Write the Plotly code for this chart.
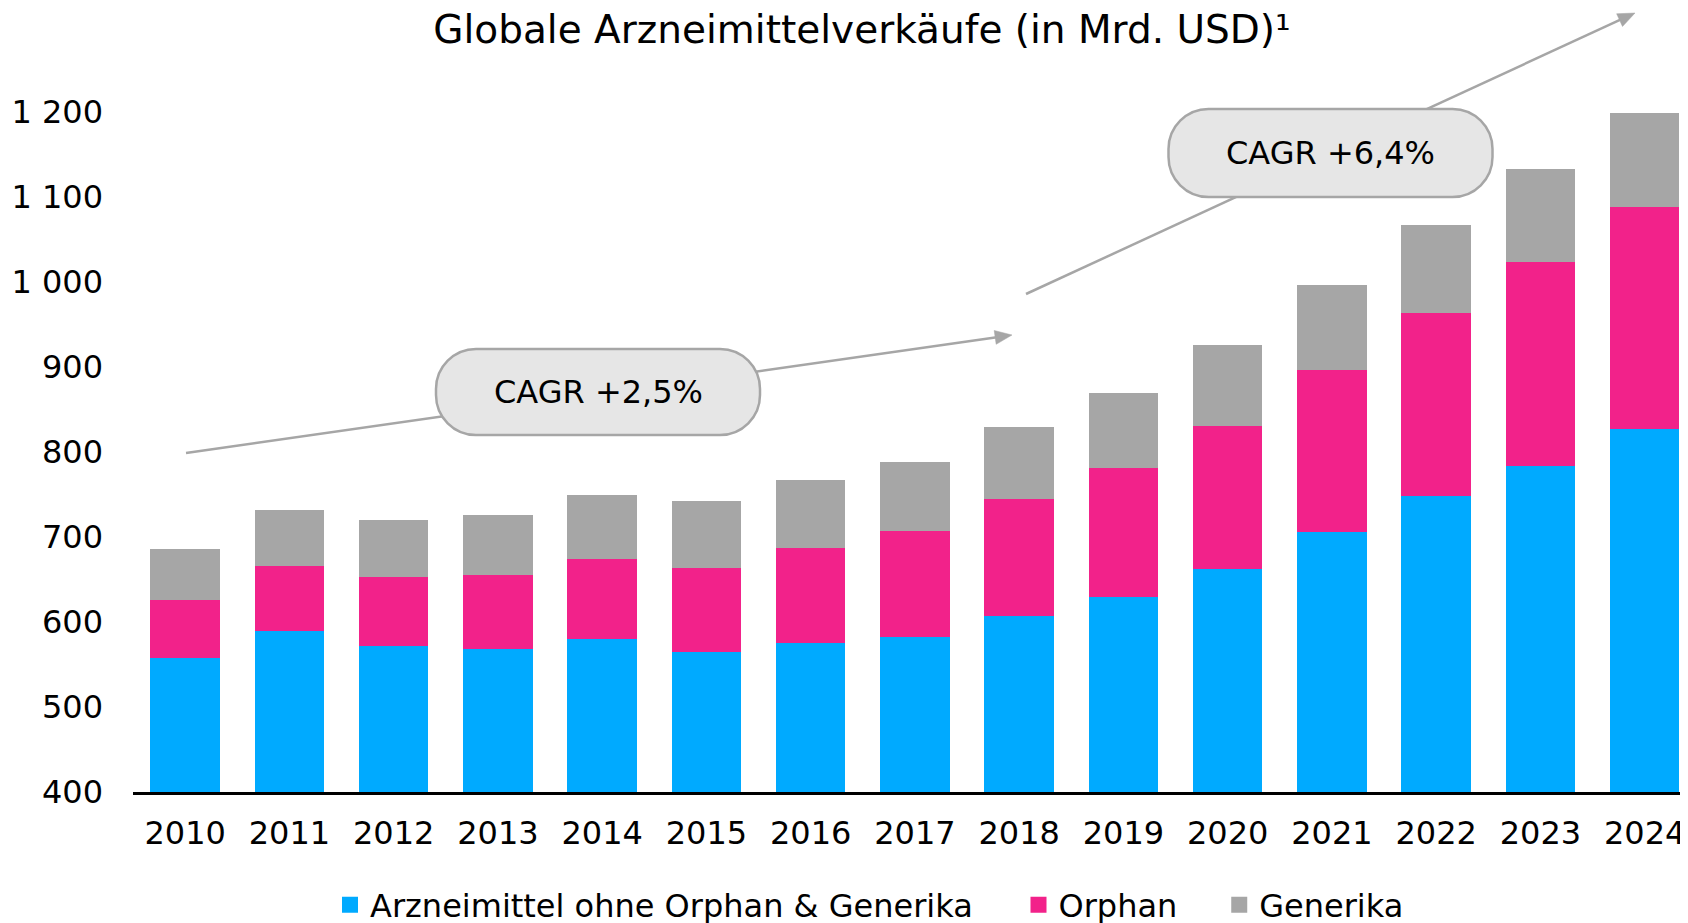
import plotly.graph_objects as go

years = [2010, 2011, 2012, 2013, 2014, 2015, 2016, 2017, 2018, 2019, 2020, 2021, 2022, 2023, 2024]
ohne_orphan_generika = [558, 589.5, 571.5, 568, 580.5, 564.5, 575.5, 582.5, 607.5, 630, 662, 705.5, 748, 784, 827]
orphan = [68, 76.5, 81.5, 87.5, 93.5, 99.5, 112, 124.5, 137.5, 151, 169, 191.5, 216, 240, 261.5]
generika = [60, 66, 67, 70.5, 76, 78.5, 79.5, 81, 84, 89, 95, 100, 103.5, 108.5, 110.5]

series_names = ["Arzneimittel ohne Orphan & Generika", "Orphan", "Generika"]
series_colors = ["#00AAFF", "#F2228A", "#A6A6A6"]

y_tickvals = [400, 500, 600, 700, 800, 900, 1000, 1100, 1200]
y_ticktext = ["400", "500", "600", "700", "800", "900", "1 000", "1 100", "1 200"]

title_text = "Globale Arzneimittelverkäufe (in Mrd. USD)\u00b9"
cagr_labels = ["CAGR +2,5%", "CAGR +6,4%"]

FONT = "DejaVu Sans"
NB = "\u00a0"
THIN = "\u2009"

# page body has an 8px margin: figure is 8px smaller and everything is laid out for that
W, H = 1680, 915
OFF = 8
ML, MB, MT = 125, 131, 0
PLOT_W = W - ML
PLOT_H = H - MB - MT
X_RANGE = [2009.5, 2024.416]
Y_RANGE = [400, 400 + PLOT_H / 0.85]

# screen(px) -> data helpers for decorative annotations (reference page coordinates)
def sx2x(sx):
    fx = (sx - OFF - ML) / PLOT_W
    return X_RANGE[0] + fx * (X_RANGE[1] - X_RANGE[0])

def sy2y(sy):
    fy = (H - MB - (sy - OFF)) / PLOT_H
    return Y_RANGE[0] + fy * (Y_RANGE[1] - Y_RANGE[0])

fig = go.Figure()
for name, vals, col in zip(series_names, [ohne_orphan_generika, orphan, generika], series_colors):
    fig.add_trace(go.Bar(
        x=years, y=vals, name=name, legendgroup=name, showlegend=False,
        marker=dict(color=col, line=dict(width=0)),
    ))
# legend proxies (larger square symbols)
pads = [NB * 4, NB * 3 + THIN, ""]
for name, col, pad in zip(series_names, series_colors, pads):
    fig.add_trace(go.Scatter(
        x=[None], y=[None], mode="markers", name=name + pad, legendgroup=name,
        marker=dict(symbol="square", size=16, color=col), hoverinfo="skip",
    ))

line_col = "#A6A6A6"
# arrows: start and tip in reference screen px
arrows = [((186, 453), (1012, 335)), ((1026, 294), (1635, 13))]
shapes = []
annotations = []
HL, HW = 17, 14
for (s, t) in arrows:
    dx, dy = t[0] - s[0], t[1] - s[1]
    L = (dx * dx + dy * dy) ** 0.5
    ux, uy = dx / L, dy / L
    ex, ey = t[0] - 10 * ux, t[1] - 10 * uy
    shapes.append(dict(type="line", xref="x", yref="y",
                       x0=sx2x(s[0]), y0=sy2y(s[1]), x1=sx2x(ex), y1=sy2y(ey),
                       line=dict(color=line_col, width=2.5)))
    # arrow head (pixel-sized path, y up)
    d = (ux, -uy)
    p = (-d[1], d[0])
    bx, by = -HL * d[0], -HL * d[1]
    c1 = (bx + HW / 2 * p[0], by + HW / 2 * p[1])
    c2 = (bx - HW / 2 * p[0], by - HW / 2 * p[1])
    shapes.append(dict(type="path", xref="x", yref="y", xsizemode="pixel", ysizemode="pixel",
                       xanchor=sx2x(t[0]), yanchor=sy2y(t[1]),
                       path=f"M0,0 L{c1[0]:.2f},{c1[1]:.2f} L{c2[0]:.2f},{c2[1]:.2f} Z",
                       fillcolor=line_col, line=dict(color=line_col, width=0.5)))

k = 0.5523
def pill(w, h, r):
    return (f"M{-w + r},{-h} L{w - r},{-h} "
            f"C{w - r + k * r},{-h} {w},{-h + r - k * r} {w},{-h + r} "
            f"L{w},{h - r} "
            f"C{w},{h - r + k * r} {w - r + k * r},{h} {w - r},{h} "
            f"L{-w + r},{h} "
            f"C{-w + r - k * r},{h} {-w},{h - r + k * r} {-w},{h - r} "
            f"L{-w},{-h + r} "
            f"C{-w},{-h + r - k * r} {-w + r - k * r},{-h} {-w + r},{-h} Z")

# pill centres in reference screen px, half sizes
boxes = [(598, 392, 162, 43), (1330.5, 153, 162, 44)]
for (cx, cy, w, h), lab in zip(boxes, cagr_labels):
    shapes.append(dict(type="path", xref="x", yref="y",
                       xsizemode="pixel", ysizemode="pixel", xanchor=sx2x(cx), yanchor=sy2y(cy),
                       path=pill(w, h, 40), fillcolor="#E6E6E6",
                       line=dict(color=line_col, width=2.5), layer="above"))
    annotations.append(dict(x=sx2x(cx), y=sy2y(cy), xref="x", yref="y", text=lab, showarrow=False,
                            font=dict(family=FONT, size=32, color="#000000"),
                            xanchor="center", yanchor="middle"))

fig.update_layout(
    width=W, height=H,
    barmode="stack", bargap=0.333,
    paper_bgcolor="white", plot_bgcolor="white",
    margin=dict(l=ML, r=0, t=MT, b=MB, autoexpand=False),
    font=dict(family=FONT, size=32, color="#000000"),
    title=dict(text=title_text, x=(862 - OFF) / W, xanchor="center", y=1 - (29 - OFF) / H, yanchor="middle",
               font=dict(family=FONT, size=39, color="#000000")),
    xaxis=dict(range=X_RANGE, tickvals=years, ticktext=[str(y) for y in years],
               showgrid=False, zeroline=False, showline=True, linecolor="#000000", linewidth=2.5,
               ticks="", ticklabelstandoff=11, tickfont=dict(family=FONT, size=32, color="#000000")),
    yaxis=dict(range=Y_RANGE, tickvals=y_tickvals, ticktext=y_ticktext,
               showgrid=False, zeroline=False, showline=False, ticks="", ticklabelstandoff=29,
               tickfont=dict(family=FONT, size=32, color="#000000")),
    legend=dict(orientation="h", x=(330 - OFF - ML) / PLOT_W, xanchor="left",
                y=(H - MB - (905 - OFF)) / PLOT_H,
                yanchor="middle", traceorder="normal", font=dict(family=FONT, size=32, color="#000000"),
                bgcolor="rgba(0,0,0,0)", borderwidth=0, itemwidth=30),
    shapes=shapes,
    annotations=annotations,
)

fig.write_html("out.html")
